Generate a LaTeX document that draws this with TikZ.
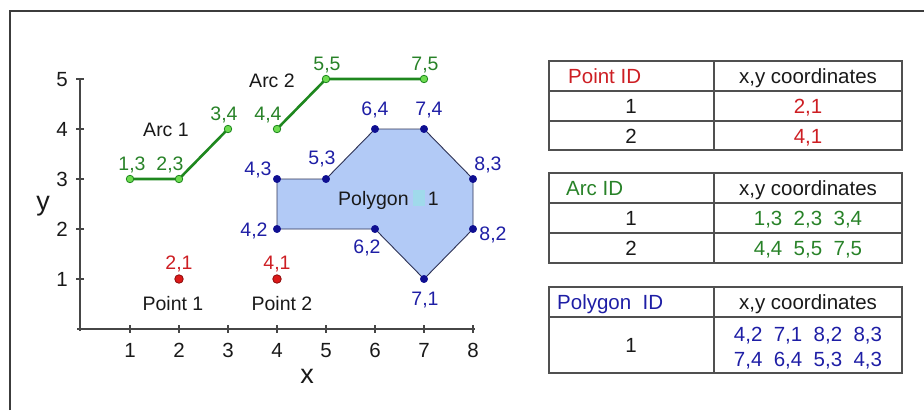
\documentclass[tikz,border=0pt]{standalone}
\usepackage{fontspec}
\setmainfont{Liberation Sans}
\definecolor{txt}{RGB}{25,25,25}
\definecolor{grline}{RGB}{30,135,30}
\definecolor{grdot}{RGB}{110,220,80}
\definecolor{grtxt}{RGB}{40,130,40}
\definecolor{rdtxt}{RGB}{205,30,35}
\definecolor{rddot}{RGB}{220,25,25}
\definecolor{rdedge}{RGB}{140,10,10}
\definecolor{bltxt}{RGB}{30,30,165}
\definecolor{bldot}{RGB}{15,15,145}
\definecolor{polyfill}{RGB}{178,202,246}
\definecolor{polyedge}{RGB}{45,50,85}
\definecolor{blob}{RGB}{160,218,235}
\definecolor{tabline}{RGB}{80,80,80}
\definecolor{axcol}{RGB}{70,70,70}
\definecolor{framecol}{RGB}{60,60,60}
\begin{document}
\begin{tikzpicture}[x=1pt,y=-1pt,
  lab/.style={font=\fontsize{19.5}{22}\selectfont, text=txt, inner sep=0pt, text height=14pt, text depth=0pt},
  axnum/.style={lab, font=\fontsize{20.5}{22}\selectfont},
  axlab/.style={lab, font=\fontsize{27}{28}\selectfont, text height=14pt},
  tab/.style={font=\fontsize{20.5}{26}\selectfont, text=txt, inner sep=0pt, text height=14.5pt, text depth=0pt},
  grlab/.style={lab, text=grtxt},
  rdlab/.style={lab, text=rdtxt},
  bllab/.style={lab, text=bltxt},
  tline/.style={draw=tabline, line width=1.3pt},
  axisline/.style={draw=axcol, line width=1.2pt},
  arcline/.style={draw=grline, line width=2.6pt},
  grpt/.style={circle, fill=grdot, draw=grline, line width=0.8pt, minimum size=7.5pt, inner sep=0pt},
  rdpt/.style={circle, fill=rddot, draw=rdedge, line width=0.8pt, minimum size=8.5pt, inner sep=0pt},
  blpt/.style={circle, fill=bldot, draw=bldot, minimum size=7.5pt, inner sep=0pt}]
\useasboundingbox (0,0) rectangle (924,410);
% frame
\draw[draw=framecol, line width=1.8pt] (10,410) -- (10,11) -- (924,11);

% axes
\draw[axisline] (77,329) -- (475,329);
\draw[axisline] (80,331) -- (80,78);
\foreach \i in {1,...,8} {
  \draw[axisline] ({81+49*\i},325) -- ({81+49*\i},333);
  \node[axnum] (xn\i) at ({81+49*\i},350) {\i};
}
\foreach \j in {1,...,5} {
  \draw[axisline] (76,{329-50*\j}) -- (84,{329-50*\j});
  \node[axnum] (yn\j) at (62,{329-50*\j}) {\j};
}
\node[axlab] (xlab) at (307,376) {x};
\node[axlab] (ylab) at (43,203) {y};

% data coordinates
\begin{scope}[shift={(81,329)}, x=49pt, y=50pt]
  \coordinate (p13) at (1,3);
  \coordinate (p23) at (2,3);
  \coordinate (p34) at (3,4);
  \coordinate (p44) at (4,4);
  \coordinate (p55) at (5,5);
  \coordinate (p75) at (7,5);
  \coordinate (p21) at (2,1);
  \coordinate (p41) at (4,1);
  \coordinate (q42) at (4,2);
  \coordinate (q62) at (6,2);
  \coordinate (q71) at (7,1);
  \coordinate (q82) at (8,2);
  \coordinate (q83) at (8,3);
  \coordinate (q74) at (7,4);
  \coordinate (q64) at (6,4);
  \coordinate (q53) at (5,3);
  \coordinate (q43) at (4,3);
\end{scope}

% polygon
\draw[fill=polyfill, draw=polyedge, line width=0.9pt]
  (q42) -- (q62) -- (q71) -- (q82) -- (q83) -- (q74) -- (q64) -- (q53) -- (q43) -- cycle;
\foreach \c in {q42,q62,q71,q82,q83,q74,q64,q53,q43} \node[blpt] at (\c) {};
\fill[blob] (413,190) rectangle (425,206);
\node[lab, anchor=west] (polyA) at (338,198) {Polygon};
\node[lab, anchor=east] (polyB) at (439,198) {1};

% arcs
\draw[arcline] (p13) -- (p23) -- (p34);
\draw[arcline] (p44) -- (p55) -- (p75);
\foreach \c in {p13,p23,p34,p44,p55,p75} \node[grpt] at (\c) {};

% points
\node[rdpt] (pt1) at (p21) {};
\node[rdpt] (pt2) at (p41) {};

% plot labels
\node[grlab] (l13) at (132,163) {1,3};
\node[grlab] (l23) at (170,163) {2,3};
\node[grlab] (l34) at (224,113) {3,4};
\node[grlab] (l44) at (268,113) {4,4};
\node[grlab] (l55) at (327,63) {5,5};
\node[grlab] (l75) at (425,63) {7,5};
\node[lab] (arc1) at (166,129) {Arc 1};
\node[lab] (arc2) at (272,80) {Arc 2};

\node[rdlab] (l21) at (179,262) {2,1};
\node[rdlab] (l41) at (277,262) {4,1};
\node[lab] (point1) at (173,303) {Point 1};
\node[lab] (point2) at (282,303) {Point 2};

\node[bllab] (l43) at (258,168) {4,3};
\node[bllab] (l42) at (254,229) {4,2};
\node[bllab] (l53) at (322,157) {5,3};
\node[bllab] (l64) at (375,108) {6,4};
\node[bllab] (l74) at (429,108) {7,4};
\node[bllab] (l83) at (488,163) {8,3};
\node[bllab] (l82) at (493,233) {8,2};
\node[bllab] (l62) at (367,246) {6,2};
\node[bllab] (l71) at (425,298) {7,1};

% table 1: points
\draw[tline] (549,61) rectangle (902,150);
\draw[tline] (549,91) -- (902,91);
\draw[tline] (549,121) -- (902,121);
\draw[tline] (714,61) -- (714,150);
\node[tab, text=rdtxt, anchor=west] (t1h) at (568,76) {Point ID};
\node[tab] (t1c) at (808,76) {x,y coordinates};
\node[tab] (t1r1) at (631,106) {1};
\node[tab, text=rdtxt] (t1v1) at (808,106) {2,1};
\node[tab] (t1r2) at (631,136) {2};
\node[tab, text=rdtxt] (t1v2) at (808,136) {4,1};

% table 2: arcs
\draw[tline] (549,173) rectangle (902,263);
\draw[tline] (549,203) -- (902,203);
\draw[tline] (549,233) -- (902,233);
\draw[tline] (714,173) -- (714,263);
\node[tab, text=grtxt, anchor=west] (t2h) at (566,188) {Arc ID};
\node[tab] (t2c) at (808,188) {x,y coordinates};
\node[tab] (t2r1) at (631,218) {1};
\node[tab, text=grtxt] (t2v1) at (808,218) {1,3~~2,3~~3,4};
\node[tab] (t2r2) at (631,248) {2};
\node[tab, text=grtxt] (t2v2) at (808,248) {4,4~~5,5~~7,5};

% table 3: polygons
\draw[tline] (549,287) rectangle (902,373);
\draw[tline] (549,317) -- (902,317);
\draw[tline] (714,287) -- (714,373);
\node[tab, text=bltxt, anchor=west] (t3h) at (557,302) {Polygon~~ID};
\node[tab] (t3c) at (808,302) {x,y coordinates};
\node[tab] (t3r1) at (631,345) {1};
\node[tab, text=bltxt] (t3v1) at (808,334) {4,2~~7,1~~8,2~~8,3};
\node[tab, text=bltxt] (t3v2) at (808,359) {7,4~~6,4~~5,3~~4,3};
\end{tikzpicture}
\end{document}
